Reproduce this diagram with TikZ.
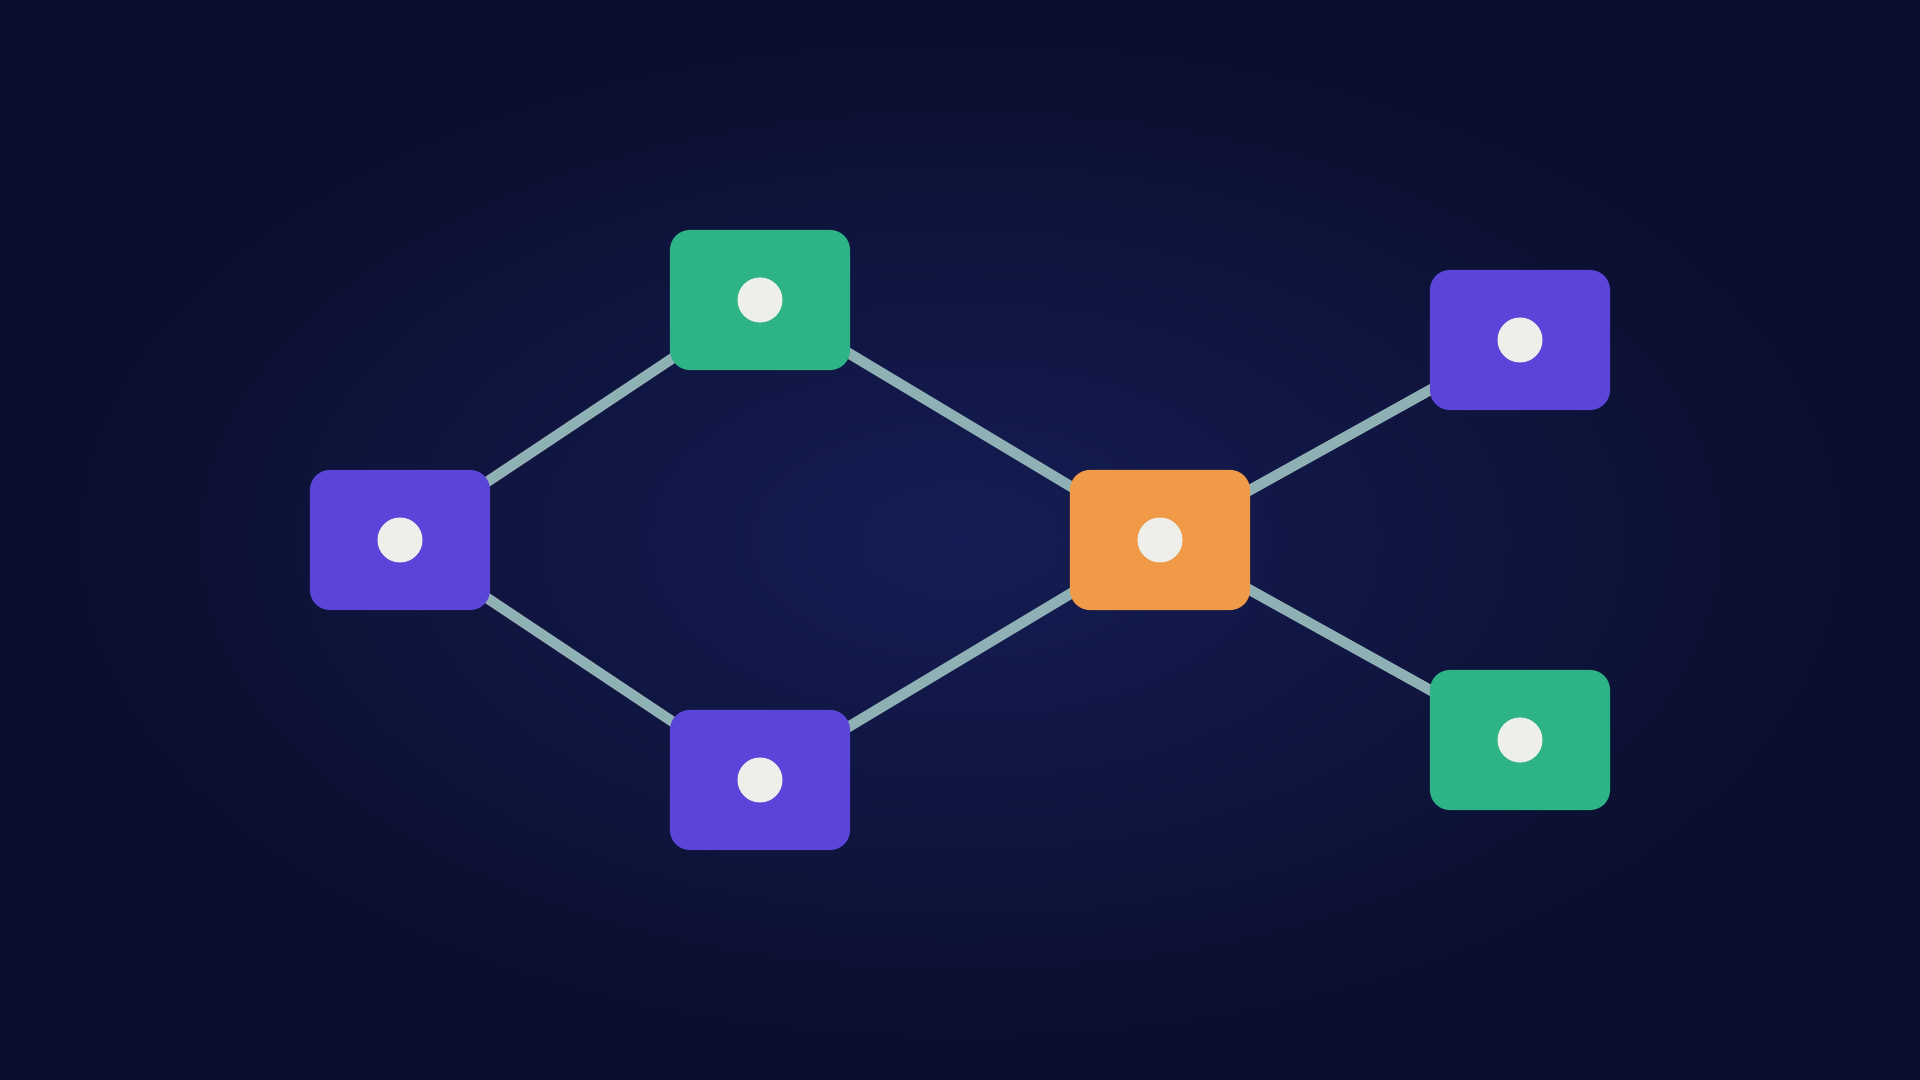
\documentclass[tikz,border=0pt]{standalone}
\usetikzlibrary{backgrounds}
\definecolor{bginner}{HTML}{151D54}
\definecolor{bgouter}{HTML}{0A0E2C}
\definecolor{boxpurple}{HTML}{5A45D8}
\definecolor{boxgreen}{HTML}{2DB386}
\definecolor{boxorange}{HTML}{F09A48}
\definecolor{linkcol}{HTML}{8FB0B4}
\definecolor{dotcol}{HTML}{EEEEEA}
\tikzset{
  card/.style={rounded corners=0.2cm,minimum width=1.8cm,minimum height=1.4cm,inner sep=0pt},
  dot/.style={circle,fill=dotcol,minimum size=0.45cm,inner sep=0pt},
  link/.style={linkcol,line width=3pt}
}
\begin{document}
\begin{tikzpicture}[x=0.01cm,y=-0.01cm]
\useasboundingbox (0,0) rectangle (1920,1080);

\node[card,fill=boxpurple] (left) at (400,540) {};
\node[card,fill=boxgreen] (top) at (760,300) {};
\node[card,fill=boxpurple] (bottom) at (760,780) {};
\node[card,fill=boxorange] (hub) at (1160,540) {};
\node[card,fill=boxpurple] (rtop) at (1520,340) {};
\node[card,fill=boxgreen] (rbot) at (1520,740) {};

\foreach \n in {left,top,bottom,hub,rtop,rbot}
  \node[dot] at (\n) {};

\begin{pgfonlayer}{background}
\shade[inner color=bginner,outer color=bgouter] (0,0) rectangle (1920,1080);
\draw[link] (left.center)--(top.center);
\draw[link] (left.center)--(bottom.center);
\draw[link] (top.center)--(hub.center);
\draw[link] (bottom.center)--(hub.center);
\draw[link] (hub.center)--(rtop.center);
\draw[link] (hub.center)--(rbot.center);
\end{pgfonlayer}
\end{tikzpicture}
\end{document}
